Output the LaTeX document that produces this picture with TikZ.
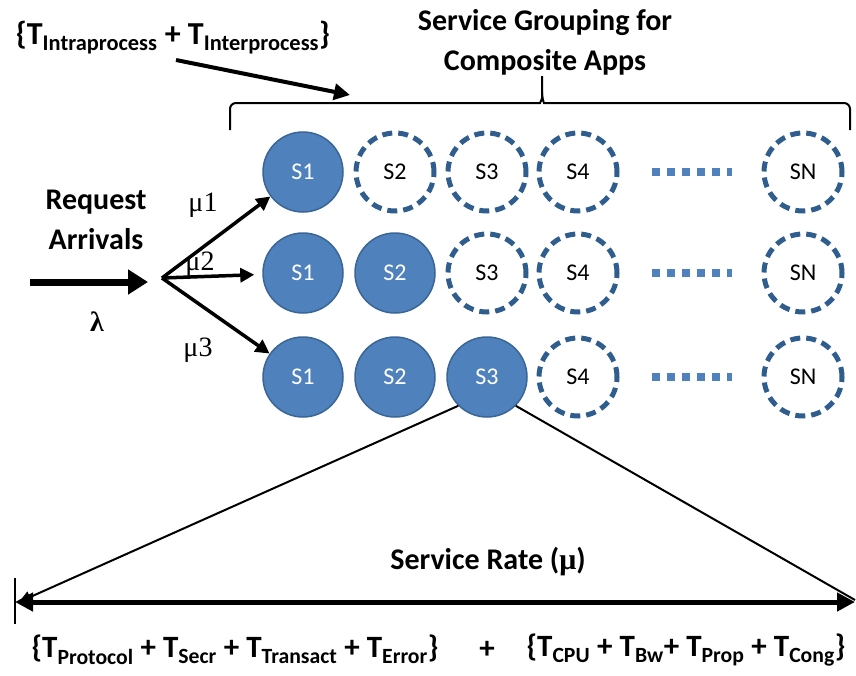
\documentclass[tikz,border=0pt]{standalone}
\usepackage{fontspec}
\setmainfont{Carlito}
\newfontfamily\greekfont{Liberation Serif}
\usetikzlibrary{arrows.meta}
\definecolor{svcfill}{HTML}{4F81BD}
\definecolor{svcline}{HTML}{3A6596}
\definecolor{svcdash}{HTML}{2F5D8E}
\newcommand{\Tsub}[1]{T\textsubscript{#1}}

\begin{document}
\begin{tikzpicture}
            [every node/.style={inner sep=0pt},
             done/.style={circle, minimum size=80pt, fill=svcfill, line width=1.5pt, draw=svcline, text=white, font=\fontsize{24}{26}\selectfont},
             todo/.style={circle, minimum size=78pt, fill=white, line width=5pt, draw=svcdash, dash pattern=on 10pt off 6pt, font=\fontsize{24}{26}\selectfont},
             gap/.style={line width=8pt, draw=svcfill, dash pattern=on 8pt off 7pt},
             title/.style={font=\bfseries\fontsize{30}{40}\selectfont, align=center},
             formula/.style={font=\bfseries\fontsize{31}{34}\selectfont},
             rate/.style={font=\greekfont\fontsize{28}{30}\selectfont},
             flow/.style={line width=3.5pt, -{Triangle[length=14pt, width=14pt]}}]
                \useasboundingbox (0pt, 0pt) rectangle (856pt, -675pt);
                % labels
                \node (topsum) at (173pt, -38pt) [formula, font=\bfseries\fontsize{32}{34}\selectfont] {\{\Tsub{Intraprocess} + \Tsub{Interprocess}\}};
                \node (group) at (545pt, -42pt) [title] {Service Grouping for\\Composite Apps};
                \node (req) at (96pt, -220pt) [title] {Request\\Arrivals};
                \node (lambda) at (97pt, -322pt) [rate] {\bfseries λ};
                % services, one row per route
                \node (r1s1) [done] at (303pt, -172pt) {S1};
                \node (r1s2) [todo] at (395pt, -172pt) {S2};
                \node (r1s3) [todo] at (487pt, -172pt) {S3};
                \node (r1s4) [todo] at (578pt, -172pt) {S4};
                \node (r1sn) [todo] at (803pt, -172pt) {SN};
                \node (r2s1) [done] at (303pt, -273pt) {S1};
                \node (r2s2) [done] at (395pt, -273pt) {S2};
                \node (r2s3) [todo] at (487pt, -273pt) {S3};
                \node (r2s4) [todo] at (578pt, -273pt) {S4};
                \node (r2sn) [todo] at (803pt, -273pt) {SN};
                \node (r3s1) [done] at (303pt, -377pt) {S1};
                \node (r3s2) [done] at (395pt, -377pt) {S2};
                \node (r3s3) [done] at (487pt, -377pt) {S3};
                \node (r3s4) [todo] at (578pt, -377pt) {S4};
                \node (r3sn) [todo] at (803pt, -377pt) {SN};
                \draw [gap] ([xshift=32pt]r1s4.east) -- ([xshift=-30pt]r1sn.west);
                \draw [gap] ([xshift=32pt]r2s4.east) -- ([xshift=-30pt]r2sn.west);
                \draw [gap] ([xshift=32pt]r3s4.east) -- ([xshift=-30pt]r3sn.west);
                % grouping brace
                \coordinate (grpl) at (230pt, -130pt);
                \coordinate (grpr) at (850pt, -130pt);
                \coordinate (grptip) at (542pt, -76pt);
                \draw [line width=2pt, rounded corners=6pt] (grpl) -- (230pt, -103pt) -- (534pt, -103pt) .. controls (540pt, -103pt) and (542pt, -99pt) .. (542pt, -92pt) -- (grptip);
                \draw [line width=2pt, rounded corners=6pt] (grpr) -- (850pt, -103pt) -- (550pt, -103pt) .. controls (544pt, -103pt) and (542pt, -99pt) .. (542pt, -92pt);
                \coordinate (grpin) at (350pt, -95pt);
                \draw [line width=4pt, -{Triangle[length=16pt, width=16pt]}] (176pt, -60pt) -- (grpin);
                % arrivals and routes
                \coordinate (src) at (30pt, -282pt);
                \coordinate (fork) at (162pt, -278pt);
                \draw [line width=7pt, -{Triangle[length=20pt, width=24pt]}] (src) -- (148pt, -282pt);
                \draw [flow] (fork) -- (r1s1);
                \draw [flow, shorten >=8pt] (fork) -- (r2s1);
                \draw [flow] (fork) -- (r3s1);
                \node (mu1) at (203pt, -205pt) [rate] {μ1};
                \node (mu2) at (200pt, -264pt) [rate] {μ2};
                \node (mu3) at (198pt, -350pt) [rate] {μ3};
                % service rate
                \coordinate (rateL) at (15pt, -602pt);
                \coordinate (rateR) at (855pt, -602pt);
                \draw [line width=2pt] ([yshift=24pt]rateL) -- ([yshift=-22pt]rateL);
                \draw [line width=5pt, {Triangle[length=18pt, width=18pt]}-{Triangle[length=18pt, width=18pt]}] (rateL) -- (rateR);
                \draw [line width=2pt, -{Triangle[length=12pt, width=12pt]}] (r3s3.225) -- ([xshift=4pt]rateL);
                \draw [line width=2pt] (r3s3.-45) -- ([yshift=2pt]rateR);
                \node (rate) at (488pt, -562pt) [title] {Service Rate ({\greekfont μ})};
                \node (procsum) at (235pt, -650pt) [formula] {\{\Tsub{Protocol} + \Tsub{Secr} + \Tsub{Transact} + \Tsub{Error}\}};
                \node (plus) at (487pt, -650pt) [formula] {+};
                \node (netsum) at (686pt, -650pt) [formula] {\{\Tsub{CPU} + \Tsub{Bw}+ \Tsub{Prop} + \Tsub{Cong}\}};
            \end{tikzpicture}
\end{document}
